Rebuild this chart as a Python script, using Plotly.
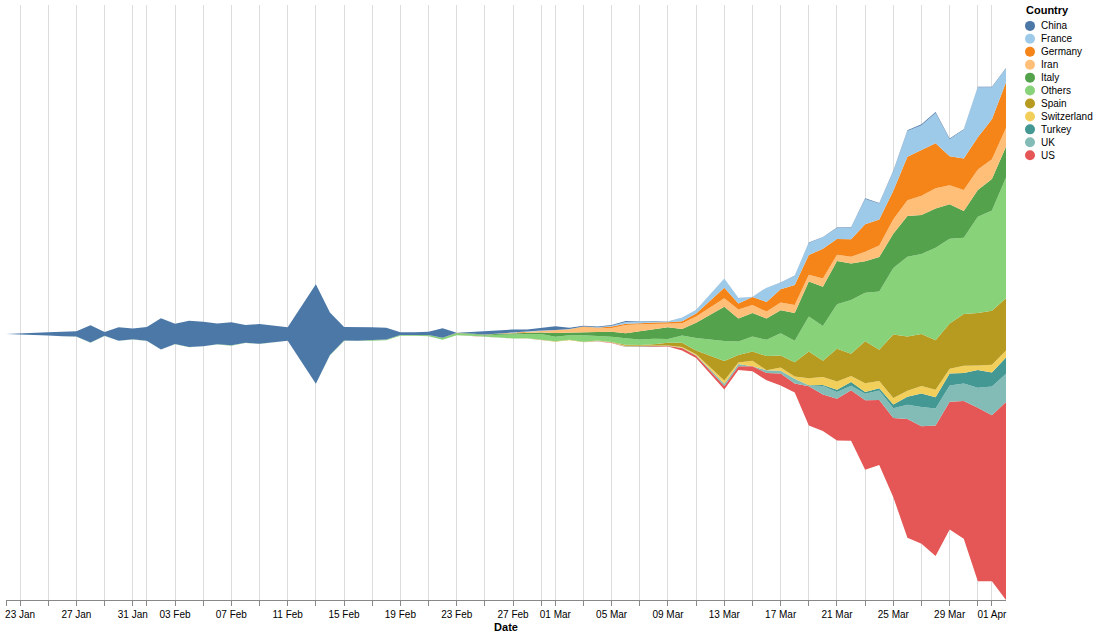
import pandas as pd
import numpy as np
import plotly.graph_objects as go

# ---------------- data: daily new confirmed cases, 22 Jan .. 02 Apr 2020 ----------------
# (12 Feb and 12 Mar have no rows in the source: the areas run straight across them)
missing_dates = ["2020-02-12", "2020-03-12"]
all_days = pd.date_range("2020-01-22", "2020-04-02", freq="D")
dates = all_days[~all_days.isin(pd.to_datetime(missing_dates))]

china = ([0, 95, 277, 486, 669, 802, 2632, 578, 2054, 1661] +
         [2089, 4739, 3086, 3991, 3733, 3147, 3523, 2704, 3015, 2525, 2032,
          15136, 6463, 2055, 2100, 1921, 1777, 408, 458, 473, 1451, 21, 219,
          513, 412, 434, 327, 428] +
         [573, 202, 125, 119, 139, 143, 99, 44, 40, 19, 24,
          11, 20, 16, 25, 21, 34, 59, 41, 90, 79, 138, 78, 111, 117, 121,
          116, 106, 86, 82] +
         [86, 67])

france = ([0, 0, 2, 1, 0, 0, 1, 1, 0, 0] +
          [1, 0, 0, 0, 0, 0, 0, 5, 0, 0, 0,
           0, 0, 1, 0, 0, 0, 0, 0, 0, 0, 0, 0, 2, 4, 20, 19, 43] +
          [30, 61, 13, 84, 92, 276, 301, 177, 83, 575, 497,
           1383, 808, 33, 2137, 1002, 1391, 1828, 1741, 1670, 1736, 3838,
           2448, 2929, 3922, 3809, 4611, 2599, 4376, 7578] +
          [4861, 2116])

germany = ([0, 0, 0, 0, 0, 0, 4, 0, 0, 1] +
           [3, 0, 2, 2, 0, 0, 1, 0, 0, 1, 0,
            0, 0, 0, 0, 0, 0, 0, 0, 0, 0, 0, 0, 1, 10, 19, 2, 31] +
           [51, 29, 37, 66, 220, 188, 129, 241, 136, 281, 451,
            1597, 910, 1210, 1477, 1985, 3070, 2993, 4528, 2365, 2660, 4183,
            3930, 4337, 6615, 6933, 6824, 4400, 4790, 4923] +
           [6064, 6922])

iran = ([0] * 10 +
        [0] * 17 + [2, 3, 13, 10, 15, 18, 34, 44, 106, 143, 205] +
        [385, 523, 835, 586, 591, 1234, 1076, 743, 595, 881, 958,
         1289, 1365, 1209, 1053, 1178, 1192, 1046, 1237, 966, 1028, 1411,
         1762, 2206, 2389, 2926, 3076, 2901, 3186, 3110] +
        [2988, 2875])

italy = ([0] * 9 + [2] +
         [0] * 6 + [1] + [0] * 12 + [17, 42, 93, 74, 93, 131, 202, 233, 240] +
         [566, 342, 466, 587, 769, 778, 1247, 1492, 1797, 977, 2313,
          5198, 3497, 3590, 3233, 3526, 4207, 5322, 5986, 6557, 5560, 4789,
          5249, 5210, 6203, 5909, 5974, 5217, 4050, 4053] +
         [4782, 4668])

others = ([0, 4, 10, 7, 14, 8, 17, 10, 12, 25] +
          [16, 8, 12, 18, 10, 10, 68, 28, 14, 80, 8,
           15, 60, 85, 84, 110, 104, 100, 95, 150, 250, 255, 270, 200, 385,
           575, 600, 905] +
          [690, 700, 970, 680, 785, 990, 850, 850, 585, 1115, 1890,
           3070, 2040, 2270, 2460, 3370, 3285, 5320, 5270, 6775, 8150, 7390,
           8845, 10090, 12090, 12140, 14065, 12875, 11605, 14630] +
          [15255, 18330])

spain = ([0] * 10 +
         [1, 0, 0, 0, 0, 0, 0, 0, 1, 0, 0] + [0] * 12 + [4, 7, 2, 17, 13] +
         [39, 36, 45, 57, 37, 141, 100, 173, 400, 622, 582,
          2955, 1159, 1407, 2144, 1806, 2162, 4053, 2447, 4964, 3394, 6368,
          4749, 9630, 8271, 7933, 7516, 6875, 7846, 7967] +
         [8195, 7947])

switzerland = ([0] * 10 +
               [0] * 23 + [1, 0, 7, 0, 10] +
               [9, 15, 14, 34, 24, 100, 54, 69, 37, 117, 161,
                487, 220, 841, 0, 500, 328, 1047, 1219, 1281, 899, 1321,
                1082, 1020, 914, 1117, 1148, 753, 1093, 683] +
               [1163, 1059])

turkey = ([0] * 10 + [0] * 28 +
          [0] * 10 + [1] +
          [4, 0, 1, 12, 29, 51, 94, 167, 311, 566, 293, 343, 561, 1196,
           2069, 1704, 1815, 1610, 2704] +
          [2148, 2456])

uk = ([0] * 9 + [2] +
      [0, 0, 0, 0, 0, 1, 0, 0, 0, 5, 0] + [0] * 11 + [4, 0, 0, 0, 5, 3] +
      [13, 4, 11, 35, 30, 48, 43, 67, 48, 62, 75,
       343, 342, 1, 406, 409, 682, 74, 1298, 1053, 678, 981,
       1438, 1476, 2172, 2933, 2567, 2468, 2673, 3028] +
      [4384, 4308])

us = ([0, 0, 1, 0, 3, 0, 0, 0, 0, 1] +
      [0, 1, 0, 0, 1, 0, 0, 0, 0, 1, 0,
       1, 0, 0, 0, 0, 0, 0, 0, 2, 0, 0, 36, 0, 6, 1, 2, 8] +
      [6, 24, 20, 31, 68, 45, 140, 116, 65, 376, 322,
       516, 548, 772, 1133, 1789, 1362, 5964, 5526, 6327, 7676, 10571,
       9893, 12038, 18058, 17821, 19821, 19408, 20921, 26365] +
      [25200, 30081])

countries = ["China", "France", "Germany", "Iran", "Italy", "Others",
             "Spain", "Switzerland", "Turkey", "UK", "US"]
series = {"China": china, "France": france, "Germany": germany, "Iran": iran,
          "Italy": italy, "Others": others, "Spain": spain,
          "Switzerland": switzerland, "Turkey": turkey, "UK": uk, "US": us}
colors = {"China": "#4c78a8", "France": "#9ecae9", "Germany": "#f58518",
          "Iran": "#ffbf79", "Italy": "#54a24b", "Others": "#88d27a",
          "Spain": "#b79a20", "Switzerland": "#f2cf5b", "Turkey": "#439894",
          "UK": "#83bcb6", "US": "#e45756"}

tick_dates = ["2020-01-23", "2020-01-27", "2020-01-31", "2020-02-03", "2020-02-07",
              "2020-02-11", "2020-02-15", "2020-02-19", "2020-02-23", "2020-02-27",
              "2020-03-01", "2020-03-05", "2020-03-09", "2020-03-13", "2020-03-17",
              "2020-03-21", "2020-03-25", "2020-03-29", "2020-04-01"]
tick_labels = ["23 Jan", "27 Jan", "31 Jan", "03 Feb", "07 Feb", "11 Feb", "15 Feb",
               "19 Feb", "23 Feb", "27 Feb", "01 Mar", "05 Mar", "09 Mar", "13 Mar",
               "17 Mar", "21 Mar", "25 Mar", "29 Mar", "01 Apr"]

# ---------------- centred ("streamgraph") stacking ----------------
for k, v in series.items():
    assert len(v) == len(dates), (k, len(v))
vals = {k: np.array(v, dtype=float) for k, v in series.items()}
total = sum(vals.values())
tmax = total.max()
base = (tmax - total) / 2.0
stack_order = countries[::-1]  # US at bottom ... China on top

fig = go.Figure()
fig.add_trace(go.Scatter(x=dates, y=base, mode="lines", line=dict(width=0),
                         showlegend=False, hoverinfo="skip"))
cum = base.copy()
for c in stack_order:
    cum = cum + vals[c]
    fig.add_trace(go.Scatter(x=dates, y=cum.copy(), mode="lines", name=c,
                             line=dict(width=0, color=colors[c]),
                             fill="tonexty", fillcolor=colors[c],
                             showlegend=False,
                             customdata=vals[c],
                             hovertemplate=c + ": %{customdata}<extra></extra>"))

# gridlines: 22 Jan plus every odd day of month
grid_dates = [all_days[0]] + [d for d in all_days if d.day % 2 == 1]
label_map = dict(zip(pd.to_datetime(tick_dates), tick_labels))
grid_text = [label_map.get(d, "") for d in grid_dates]

FONT = "Liberation Sans, Arial, Helvetica, sans-serif"
W, H = 1097, 637
ML, MR, MT, MB = 6, 91, 5, 34
PW, PH = W - ML - MR, H - MT - MB

fig.update_layout(
    width=W, height=H,
    margin=dict(l=ML, r=MR, t=MT, b=MB, pad=0),
    paper_bgcolor="white", plot_bgcolor="white",
    font=dict(family=FONT, size=10, color="#000"),
    showlegend=False,
    xaxis=dict(
        range=[all_days[0], all_days[-1]],
        tickvals=grid_dates, ticktext=grid_text,
        showgrid=True, gridcolor="#dddddd", gridwidth=1,
        ticks="outside", ticklen=5, tickcolor="#888888", tickwidth=1,
        showline=True, linecolor="#888888", linewidth=1,
        tickfont=dict(size=10, color="#000", family=FONT),
        tickangle=0,
        title=dict(text="<b>Date</b>", font=dict(size=11, family=FONT, color="#000"),
                   standoff=4),
        zeroline=False,
    ),
    yaxis=dict(range=[0, 90400], visible=False, showgrid=False, zeroline=False),
)

# ---------------- legend (drawn manually to match compact symbol legend) ----------------
def px_to_paper_x(px):
    return (px - ML) / PW

def px_to_paper_y(py):
    return (H - MB - py) / PH

fig.add_annotation(x=px_to_paper_x(1024), y=px_to_paper_y(10.5), xref="paper", yref="paper",
                   text="<b>Country</b>", showarrow=False, xanchor="left", yanchor="middle",
                   font=dict(size=11, family=FONT, color="#000"))
for i, c in enumerate(countries):
    cy = 26 + 13 * i
    fig.add_shape(type="circle", xref="paper", yref="paper",
                  xsizemode="pixel", ysizemode="pixel",
                  xanchor=px_to_paper_x(1030), yanchor=px_to_paper_y(cy),
                  x0=-5, x1=5, y0=-5, y1=5,
                  fillcolor=colors[c], line=dict(width=0))
    fig.add_annotation(x=px_to_paper_x(1039), y=px_to_paper_y(cy), xref="paper", yref="paper",
                       text=c, showarrow=False, xanchor="left", yanchor="middle",
                       font=dict(size=10, family=FONT, color="#000"))

fig.write_html("out.html", config={"displayModeBar": False},
               post_script="document.body.style.margin='0px';")
